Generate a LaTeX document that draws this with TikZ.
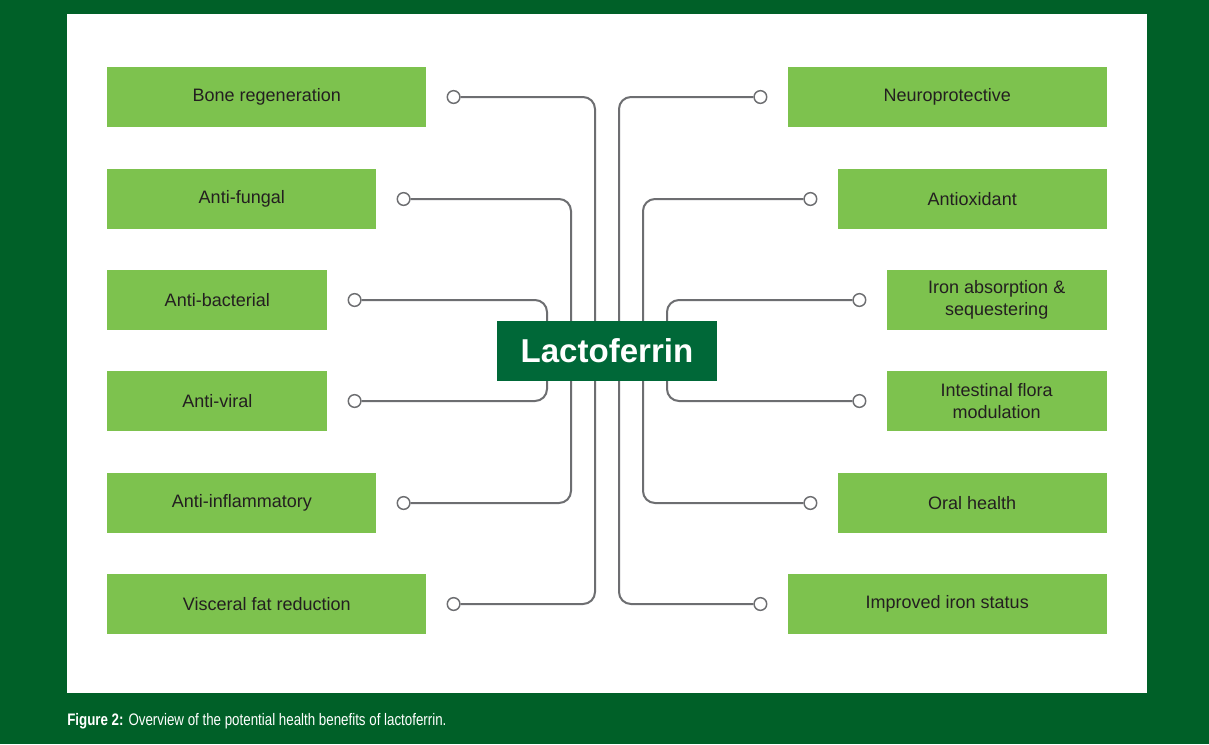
\documentclass[tikz,border=0pt]{standalone}
\usepackage{fontspec}
\setmainfont{Liberation Sans}
\newfontfamily\capfont{Liberation Sans}[FakeStretch=0.8]
\usetikzlibrary{positioning}

\definecolor{bgGreen}{RGB}{0,96,40}
\definecolor{leafGreen}{RGB}{125,194,78}
\definecolor{coreGreen}{RGB}{0,104,56}
\definecolor{wireGray}{RGB}{109,110,113}
\definecolor{inkDark}{RGB}{35,31,32}

\tikzset{
  benefit/.style={fill=leafGreen, text=inkDark, minimum height=45pt,
    inner sep=0pt, align=center, font=\fontsize{13.5}{16.5}\selectfont},
  wideBox/.style={benefit, minimum width=239.25pt},
  midBox/.style={benefit, minimum width=201.75pt},
  slimBox/.style={benefit, minimum width=165pt},
  dot/.style={circle, draw=wireGray, fill=white, line width=1.1pt,
    minimum size=9.5pt, inner sep=0pt},
  wire/.style={draw=wireGray, line width=1.5pt, rounded corners=9pt},
  core/.style={fill=coreGreen, text=white, minimum width=165pt,
    minimum height=45pt, inner sep=0pt,
    font=\bfseries\fontsize{24.8}{28}\selectfont}
}

\begin{document}
\begin{tikzpicture}[x=0.75pt, y=-0.75pt]

% frame
\fill[bgGreen] (0,0) rectangle (1209,744);
\useasboundingbox (0,0) rectangle (1209,744);
\fill[white] (67,14) rectangle (1147,693);

% left side
\node[wideBox, anchor=west] (bone) at (107,97) {Bone regeneration};
\node[midBox, anchor=west] (fungal) at (107,199) {Anti-fungal};
\node[slimBox, anchor=west] (bacterial) at (107,300) {Anti-bacterial};
\node[slimBox, anchor=west] (viral) at (107,401) {Anti-viral};
\node[midBox, anchor=west] (inflam) at (107,503) {Anti-inflammatory};
\node[wideBox, anchor=west] (visceral) at (107,604) {Visceral fat reduction};

% right side
\node[wideBox, anchor=east] (neuro) at (1107,97) {Neuroprotective};
\node[midBox, anchor=east] (antiox) at (1107,199) {Antioxidant};
\node[slimBox, anchor=east] (ironabs) at (1107,300) {Iron absorption \&\\sequestering};
\node[slimBox, anchor=east] (flora) at (1107,401) {Intestinal flora\\modulation};
\node[midBox, anchor=east] (oral) at (1107,503) {Oral health};
\node[wideBox, anchor=east] (ironstat) at (1107,604) {Improved iron status};

% end dots
\node[dot, right=15pt of bone] (boneDot) {};
\node[dot, right=15pt of fungal] (fungalDot) {};
\node[dot, right=15pt of bacterial] (bacterialDot) {};
\node[dot, right=15pt of viral] (viralDot) {};
\node[dot, right=15pt of inflam] (inflamDot) {};
\node[dot, right=15pt of visceral] (visceralDot) {};

\node[dot, left=15pt of neuro] (neuroDot) {};
\node[dot, left=15pt of antiox] (antioxDot) {};
\node[dot, left=15pt of ironabs] (ironabsDot) {};
\node[dot, left=15pt of flora] (floraDot) {};
\node[dot, left=15pt of oral] (oralDot) {};
\node[dot, left=15pt of ironstat] (ironstatDot) {};

% spines
\coordinate (spineA) at (595,351);
\coordinate (spineB) at (571,351);
\coordinate (spineC) at (547,351);
\coordinate (spineD) at (619,351);
\coordinate (spineE) at (643,351);
\coordinate (spineF) at (667,351);

\draw[wire] (boneDot) -| (spineA) |- (visceralDot);
\draw[wire] (fungalDot) -| (spineB) |- (inflamDot);
\draw[wire] (bacterialDot) -| (spineC) |- (viralDot);
\draw[wire] (neuroDot) -| (spineD) |- (ironstatDot);
\draw[wire] (antioxDot) -| (spineE) |- (oralDot);
\draw[wire] (ironabsDot) -| (spineF) |- (floraDot);

\node[core] (lacto) at (607,351) {Lactoferrin};

% caption
\node[anchor=base west, text=white, inner sep=0pt,
  font=\capfont\fontsize{12.5}{14}\selectfont] (caption) at (67,725.7)
  {\textbf{Figure 2:} Overview of the potential health benefits of lactoferrin.};

\end{tikzpicture}
\end{document}
